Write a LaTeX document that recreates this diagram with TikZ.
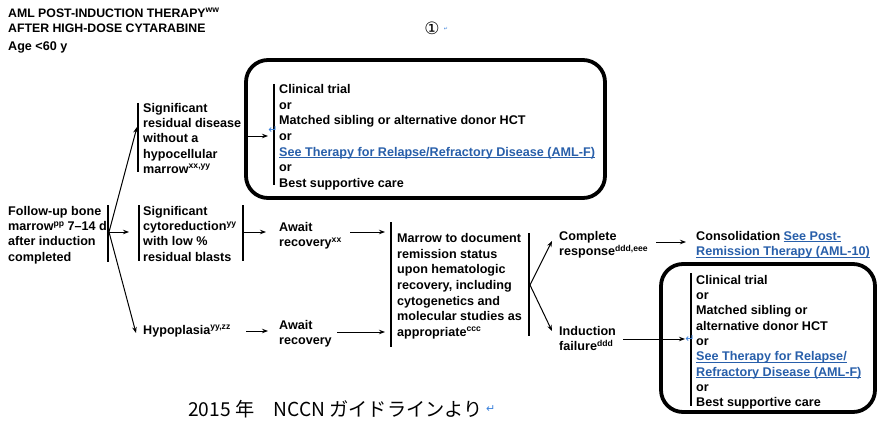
\documentclass[tikz,border=0pt]{standalone}
\usepackage{fontspec}
\setmainfont{Liberation Sans}
\newfontfamily\jpfont{Noto Sans CJK JP}
\newfontfamily\symfont{DejaVu Sans}
\usetikzlibrary{arrows.meta}
\definecolor{lnk}{RGB}{40,95,170}
\definecolor{mkc}{RGB}{60,130,220}
\newcommand\lnk[1]{\textcolor{lnk}{\setbox0\hbox{#1}\rlap{\rule[-1.7pt]{\wd0}{0.7pt}}\box0}}
\newcommand\sps[1]{\raisebox{4.6pt}{\fontsize{8.6}{8.6}\selectfont #1}}
\tikzset{
  txt/.style={inner sep=0pt, anchor=north west, align=left, font=\bfseries\fontsize{12.6}{15.3}\selectfont},
  txtb/.style={txt, font=\bfseries\fontsize{12.6}{15.7}\selectfont},
  bar/.style={line width=1.2pt},
  arr/.style={line width=1pt, -{Stealth[length=6pt,width=4.5pt]}},
  rbox/.style={draw, line width=3.8pt, rounded corners=22pt, inner sep=0pt},
  mk/.style={text=mkc, font=\symfont\fontsize{11}{11}\selectfont, inner sep=0pt},
}
\begin{document}
\begin{tikzpicture}[x=1pt,y=-1pt]
\useasboundingbox[fill=white] (0,0) rectangle (880,425);

% title
\node[txt, font=\bfseries\fontsize{12.3}{15}\selectfont] (title) at (8,8) {AML POST-INDUCTION THERAPY\sps{ww}\\AFTER HIGH-DOSE CYTARABINE};
\node[txt] (age) at (8,42) {Age <60 y};
\node[font=\symfont\fontsize{17}{17}\selectfont, inner sep=0pt] (c1) at (432,28) {①};
\node[mk, font=\symfont\fontsize{5}{5}\selectfont] (m0) at (446,29) {↵};

% box 1
\node[rbox, minimum width=359pt, minimum height=138pt] (box1) at (425.5,129) {};
\draw[bar] (274,84) coordinate (b1t) -- (274,185) coordinate (b1b);
\node[txtb] (opt1) at (279,84) {Clinical trial\\or\\Matched sibling or alternative donor HCT\\or\\\lnk{See Therapy for Relapse/Refractory Disease (AML-F)}\\or\\Best supportive care};
\node[mk] (m1) at (273,130) {↵};

% left block
\node[txt] (fu) at (8,206) {Follow-up bone\\marrow\sps{pp} 7--14 d\\after induction\\completed};
\draw[bar] (108,205) -- (108,262);
\coordinate (fork) at (109,232);

% residual disease
\draw[bar] (138,103) -- (138,172);
\node[txt] (res) at (143,103) {Significant\\residual disease\\without a\\hypocellular\\marrow\sps{xx,yy}};

% cytoreduction
\draw[bar] (139,205) -- (139,261);
\node[txt] (cyto) at (143,206) {Significant\\cytoreduction\sps{yy}\\with low \%\\residual blasts};
\draw[bar] (243,205) -- (243,261);

% hypoplasia
\node[txt] (hypo) at (143,325) {Hypoplasia\sps{yy,zz}};

% await
\node[txt] (aw1) at (279,222) {Await\\recovery\sps{xx}};
\node[txt] (aw2) at (279,320) {Await\\recovery};

% marrow
\draw[bar] (391,222) -- (391,347);
\node[txtb] (mar) at (397,233) {Marrow to document\\remission status\\upon hematologic\\recovery, including\\cytogenetics and\\molecular studies as\\appropriate\sps{ccc}};
\draw[bar] (529,233) -- (529,336);
\coordinate (fork2) at (530,285);

% outcomes
\node[txt] (cr) at (559,231) {Complete\\response\sps{ddd,eee}};
\node[txt] (ind) at (559,326) {Induction\\failure\sps{ddd}};
\node[txt] (cons) at (696,231) {Consolidation \lnk{See Post-}\\\lnk{Remission Therapy (AML-10)}};

% box 2
\node[rbox, minimum width=214pt, minimum height=148pt] (box2) at (768,338) {};
\draw[bar] (691,273) -- (691,406);
\node[txt] (opt2) at (696,275) {Clinical trial\\or\\Matched sibling or\\alternative donor HCT\\or\\\lnk{See Therapy for Relapse/}\\\lnk{Refractory Disease (AML-F)}\\or\\Best supportive care};
\node[mk] (m2) at (690,339) {↵};

% arrows
\coordinate (a1) at (137,127);
\coordinate (a2) at (129,232);
\coordinate (a3) at (136,333);
\draw[arr] (fork) -- (a1);
\draw[arr] (fork) -- (a2);
\draw[arr] (fork) -- (a3);
\coordinate (r1s) at (247,136); \coordinate (r1e) at (268,136);
\draw[arr] (r1s) -- (r1e);
\coordinate (c1s) at (243,232); \coordinate (c1e) at (266,232);
\draw[arr] (c1s) -- (c1e);
\coordinate (w1s) at (350,232); \coordinate (w1e) at (385,232);
\draw[arr] (w1s) -- (w1e);
\coordinate (h1s) at (246,331); \coordinate (h1e) at (268,331);
\draw[arr] (h1s) -- (h1e);
\coordinate (w2s) at (337,332); \coordinate (w2e) at (385,332);
\draw[arr] (w2s) -- (w2e);
\coordinate (f2a) at (552,241); \coordinate (f2b) at (552,331);
\draw[arr] (fork2) -- (f2a);
\draw[arr] (fork2) -- (f2b);
\coordinate (crs) at (656,242); \coordinate (cre) at (686,242);
\draw[arr] (crs) -- (cre);
\coordinate (ins) at (623,339); \coordinate (ine) at (685,339);
\draw[arr] (ins) -- (ine);

% footer
\node[inner sep=0pt, anchor=west, font=\jpfont\fontsize{19.2}{19.2}\selectfont] (jp) at (188,409) {2015 年　NCCN ガイドラインより};
\node[mk, anchor=west] (m3) at (jp.east) {\hspace{3pt}↵};
\node[font=\symfont\fontsize{17}{17}\selectfont, inner sep=0pt] (c2) at (775,434) {②};
\end{tikzpicture}
\end{document}
